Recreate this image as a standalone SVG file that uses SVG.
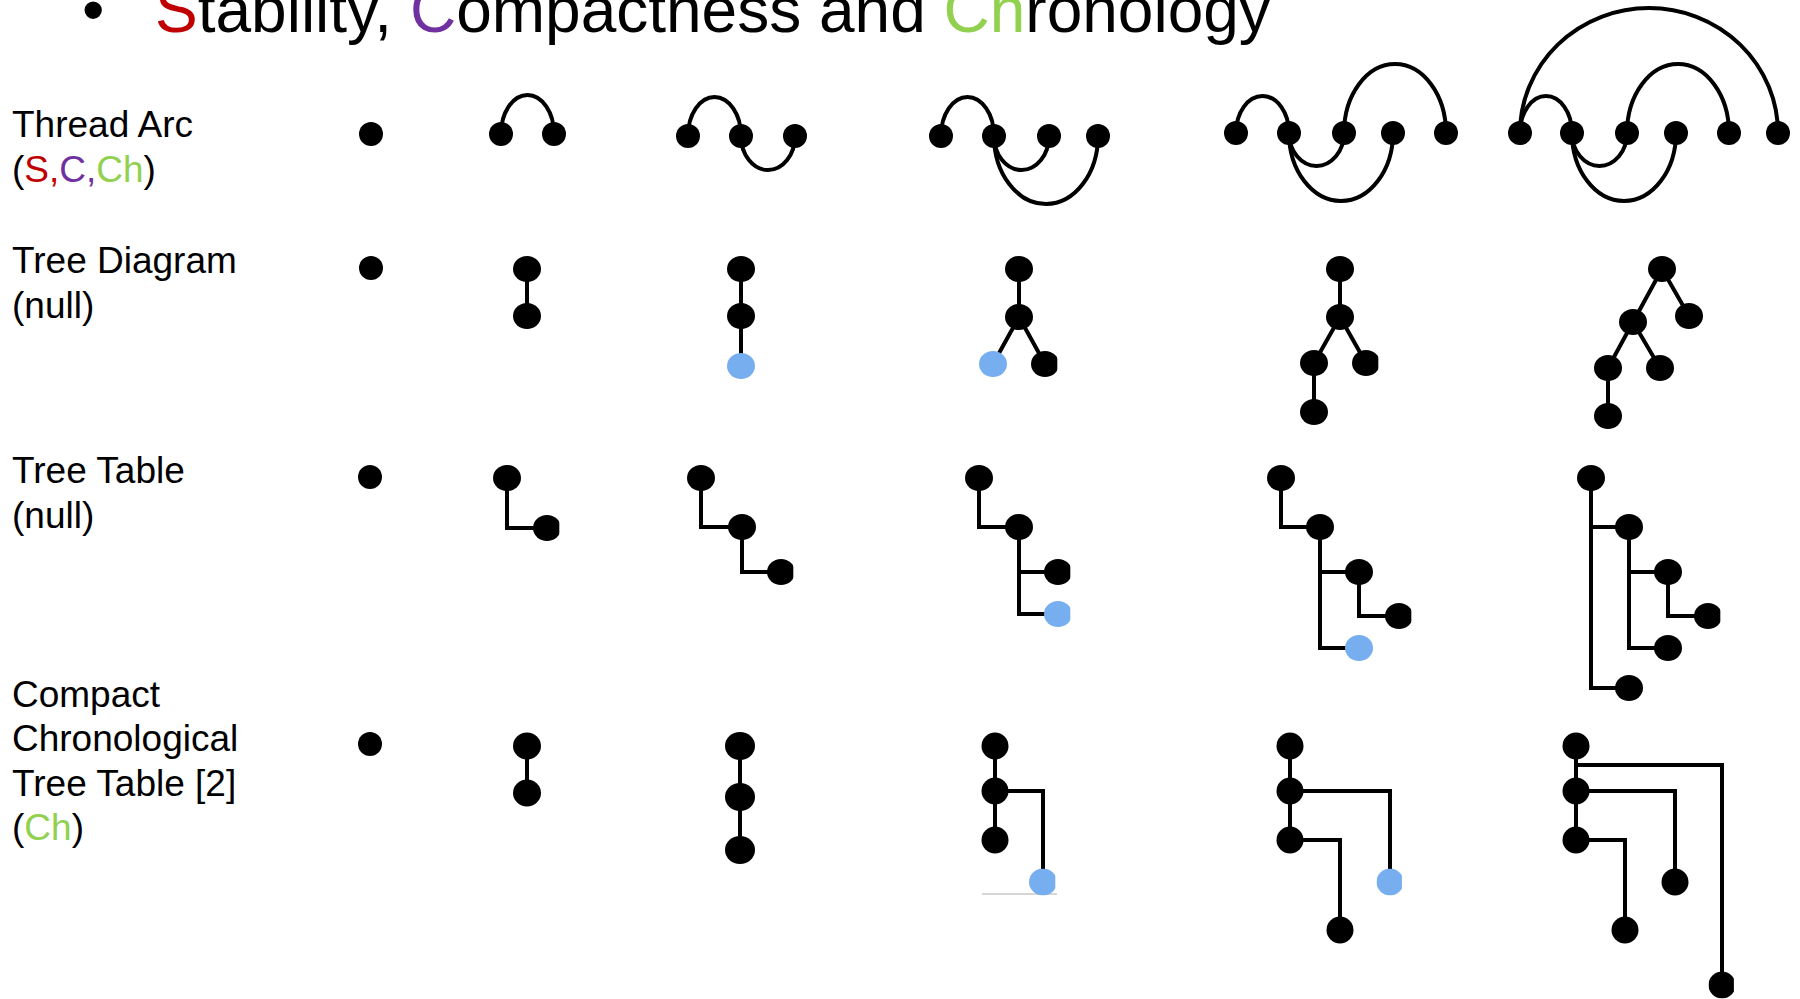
<svg xmlns="http://www.w3.org/2000/svg" width="1800" height="999" viewBox="0 0 1800 999">
<style>
  .lbl { font-family: "Liberation Sans", Arial, sans-serif; font-size: 37px; fill: #000; }
  .ttl { font-family: "Liberation Sans", Arial, sans-serif; font-size: 64px; fill: #000; }
  .red { fill: #C00000; }
  .pur { fill: #7030A0; }
  .grn { fill: #92D050; }
  .dot { fill: #000; }
  .blue { fill: #77AEF0; }
  .ln { fill: none; stroke: #000; stroke-width: 4; }
  .tl { fill: none; stroke: #000; stroke-width: 4; stroke-linejoin: miter; }
  .faint { fill: none; stroke: #C8C8C8; stroke-width: 1.5; }
</style>
<defs>
  <clipPath id="cutR" clipPathUnits="objectBoundingBox"><rect x="0" y="0" width="0.94" height="1"/></clipPath>
</defs>
<rect x="0" y="0" width="1800" height="999" fill="#fff"/>

<g id="title">
  <text class="ttl" x="82" y="32" font-size="78">•</text>
  <text class="ttl" x="155" y="32"><tspan class="red">S</tspan>tability, <tspan class="pur">C</tspan>ompactness and <tspan class="grn">Ch</tspan>ronology</text>
</g>

<g id="labels">
  <text class="lbl" x="12" y="137">Thread Arc</text>
  <text class="lbl" x="12" y="182">(<tspan class="red">S</tspan><tspan class="red">,</tspan><tspan class="pur">C,</tspan><tspan class="grn">Ch</tspan>)</text>
  <text class="lbl" x="12" y="273">Tree Diagram</text>
  <text class="lbl" x="12" y="318">(null)</text>
  <text class="lbl" x="12" y="483">Tree Table</text>
  <text class="lbl" x="12" y="528">(null)</text>
  <text class="lbl" x="12" y="707">Compact</text>
  <text class="lbl" x="12" y="751">Chronological</text>
  <text class="lbl" x="12" y="796">Tree Table [2]</text>
  <text class="lbl" x="12" y="840">(<tspan class="grn">Ch</tspan>)</text>
</g>

<g id="connectors">
  <!-- Thread arcs -->
  <path class="ln" d="M501 134 A26.5 39 0 0 1 554 134"/>
  <path class="ln" d="M688 136 A26.5 39 0 0 1 741 136"/>
  <path class="ln" d="M741 136 A27 34 0 0 0 795 136"/>
  <path class="ln" d="M941 136 A26.5 39 0 0 1 994 136"/>
  <path class="ln" d="M994 136 A27.5 34 0 0 0 1049 136"/>
  <path class="ln" d="M994 136 A52 68 0 0 0 1098 136"/>
  <path class="ln" d="M1236 133 A26.5 37 0 0 1 1289 133"/>
  <path class="ln" d="M1344 133 A51 69 0 0 1 1446 133"/>
  <path class="ln" d="M1289 133 A27.5 33 0 0 0 1344 133"/>
  <path class="ln" d="M1289 133 A52 68 0 0 0 1393 133"/>
  <path class="ln" d="M1520 133 A26 37 0 0 1 1572 133"/>
  <path class="ln" d="M1627 133 A51 69 0 0 1 1729 133"/>
  <path class="ln" d="M1520 133 A129 125 0 0 1 1778 133"/>
  <path class="ln" d="M1572 133 A27.5 33 0 0 0 1627 133"/>
  <path class="ln" d="M1572 133 A52 68 0 0 0 1676 133"/>

  <!-- Tree diagrams -->
  <path class="ln" d="M527 269 L527 316"/>
  <path class="ln" d="M741 269 L741 366"/>
  <path class="ln" d="M1019 269 L1019 317 M1019 317 L993 364 M1019 317 L1045 364"/>
  <path class="ln" d="M1340 269 L1340 317 M1340 317 L1314 363 M1340 317 L1366 363 M1314 363 L1314 412"/>
  <path class="ln" d="M1662 269 L1689 316 M1662 269 L1633 322 M1633 322 L1608 368 M1633 322 L1660 368 M1608 368 L1608 416"/>

  <!-- Tree tables -->
  <path class="tl" d="M507 478 V528 H547"/>
  <path class="tl" d="M701 478 V527 H742 M742 527 V572 H781"/>
  <path class="tl" d="M979 478 V527 H1019 M1019 527 V614 H1058 M1019 572 H1058"/>
  <path class="tl" d="M1281 478 V527 H1320 M1320 527 V648 H1359 M1320 572 H1359 M1359 572 V616 H1399"/>
  <path class="tl" d="M1591 478 V688 H1629 M1591 527 H1629 M1629 527 V648 H1668 M1629 572 H1668 M1668 572 V616 H1708"/>

  <!-- Compact chronological tree tables -->
  <path class="tl" d="M527 746 V793"/>
  <path class="tl" d="M740 746 V850"/>
  <path class="tl" d="M995 746 V840 M995 791 H1043 V882"/>
  <path class="faint" d="M982 894 H1057"/>
  <path class="tl" d="M1290 746 V840 M1290 791 H1390 V882 M1290 840 H1340 V930"/>
  <path class="tl" d="M1576 746 V840 M1576 765 H1722 V985 M1576 791 H1675 V882 M1576 840 H1625 V930"/>
</g>

<g id="thread-arc">
  <g id="ta1"><circle class="dot" cx="371" cy="134" r="12"/></g>
  <g id="ta2"><circle class="dot" cx="501" cy="134" r="12"/><circle class="dot" cx="554" cy="134" r="12"/></g>
  <g id="ta3"><circle class="dot" cx="688" cy="136" r="12"/><circle class="dot" cx="741" cy="136" r="12"/><circle class="dot" cx="795" cy="136" r="12"/></g>
  <g id="ta4"><circle class="dot" cx="941" cy="136" r="12"/><circle class="dot" cx="994" cy="136" r="12"/><circle class="dot" cx="1049" cy="136" r="12"/><circle class="dot" cx="1098" cy="136" r="12"/></g>
  <g id="ta5"><circle class="dot" cx="1236" cy="133" r="12"/><circle class="dot" cx="1289" cy="133" r="12"/><circle class="dot" cx="1344" cy="133" r="12"/><circle class="dot" cx="1393" cy="133" r="12"/><circle class="dot" cx="1446" cy="133" r="12"/></g>
  <g id="ta6"><circle class="dot" cx="1520" cy="133" r="12"/><circle class="dot" cx="1572" cy="133" r="12"/><circle class="dot" cx="1627" cy="133" r="12"/><circle class="dot" cx="1676" cy="133" r="12"/><circle class="dot" cx="1729" cy="133" r="12"/><circle class="dot" cx="1778" cy="133" r="12"/></g>
</g>

<g id="tree-diagram">
  <g id="td1"><circle class="dot" cx="371" cy="268" r="12"/></g>
  <g id="td2"><ellipse class="dot" cx="527" cy="269" rx="14" ry="13"/><ellipse class="dot" cx="527" cy="316" rx="14" ry="13"/></g>
  <g id="td3"><ellipse class="dot" cx="741" cy="269" rx="14" ry="13"/><ellipse class="dot" cx="741" cy="316" rx="14" ry="13"/><ellipse class="blue" cx="741" cy="366" rx="14" ry="13"/></g>
  <g id="td4"><ellipse class="dot" cx="1019" cy="269" rx="14" ry="13"/><ellipse class="dot" cx="1019" cy="317" rx="14" ry="13"/><ellipse class="blue" cx="993" cy="364" rx="14" ry="13"/><ellipse class="dot" cx="1045" cy="364" rx="14" ry="13" clip-path="url(#cutR)"/></g>
  <g id="td5"><ellipse class="dot" cx="1340" cy="269" rx="14" ry="13"/><ellipse class="dot" cx="1340" cy="317" rx="14" ry="13"/><ellipse class="dot" cx="1314" cy="363" rx="14" ry="13"/><ellipse class="dot" cx="1366" cy="363" rx="14" ry="13" clip-path="url(#cutR)"/><ellipse class="dot" cx="1314" cy="412" rx="14" ry="13"/></g>
  <g id="td6"><ellipse class="dot" cx="1662" cy="269" rx="14" ry="13"/><ellipse class="dot" cx="1689" cy="316" rx="14" ry="13"/><ellipse class="dot" cx="1633" cy="322" rx="14" ry="13"/><ellipse class="dot" cx="1608" cy="368" rx="14" ry="13"/><ellipse class="dot" cx="1660" cy="368" rx="14" ry="13"/><ellipse class="dot" cx="1608" cy="416" rx="14" ry="13"/></g>
</g>

<g id="tree-table">
  <g id="tt1"><circle class="dot" cx="370" cy="477" r="12"/></g>
  <g id="tt2"><ellipse class="dot" cx="507" cy="478" rx="14" ry="13"/><ellipse class="dot" cx="547" cy="528" rx="14" ry="13" clip-path="url(#cutR)"/></g>
  <g id="tt3"><ellipse class="dot" cx="701" cy="478" rx="14" ry="13"/><ellipse class="dot" cx="742" cy="527" rx="14" ry="13"/><ellipse class="dot" cx="781" cy="572" rx="14" ry="13" clip-path="url(#cutR)"/></g>
  <g id="tt4"><ellipse class="dot" cx="979" cy="478" rx="14" ry="13"/><ellipse class="dot" cx="1019" cy="527" rx="14" ry="13"/><ellipse class="dot" cx="1058" cy="572" rx="14" ry="13" clip-path="url(#cutR)"/><ellipse class="blue" cx="1058" cy="614" rx="14" ry="13" clip-path="url(#cutR)"/></g>
  <g id="tt5"><ellipse class="dot" cx="1281" cy="478" rx="14" ry="13"/><ellipse class="dot" cx="1320" cy="527" rx="14" ry="13"/><ellipse class="dot" cx="1359" cy="572" rx="14" ry="13"/><ellipse class="dot" cx="1399" cy="616" rx="14" ry="13" clip-path="url(#cutR)"/><ellipse class="blue" cx="1359" cy="648" rx="14" ry="13"/></g>
  <g id="tt6"><ellipse class="dot" cx="1591" cy="478" rx="14" ry="13"/><ellipse class="dot" cx="1629" cy="527" rx="14" ry="13"/><ellipse class="dot" cx="1668" cy="572" rx="14" ry="13"/><ellipse class="dot" cx="1708" cy="616" rx="14" ry="13" clip-path="url(#cutR)"/><ellipse class="dot" cx="1668" cy="648" rx="14" ry="13"/><ellipse class="dot" cx="1629" cy="688" rx="14" ry="13"/></g>
</g>

<g id="cctt">
  <g id="cc1"><circle class="dot" cx="370" cy="744" r="12"/></g>
  <g id="cc2"><ellipse class="dot" cx="527" cy="746" rx="14" ry="13.5"/><ellipse class="dot" cx="527" cy="793" rx="14" ry="13.5"/></g>
  <g id="cc3"><ellipse class="dot" cx="740" cy="746" rx="15" ry="14"/><ellipse class="dot" cx="740" cy="797" rx="15" ry="14"/><ellipse class="dot" cx="740" cy="850" rx="15" ry="14"/></g>
  <g id="cc4"><ellipse class="dot" cx="995" cy="746" rx="13.5" ry="13.5"/><ellipse class="dot" cx="995" cy="791" rx="13.5" ry="13.5"/><ellipse class="dot" cx="995" cy="840" rx="13.5" ry="13.5"/><ellipse class="blue" cx="1043" cy="882" rx="14" ry="13.5" clip-path="url(#cutR)"/></g>
  <g id="cc5"><ellipse class="dot" cx="1290" cy="746" rx="13.5" ry="13.5"/><ellipse class="dot" cx="1290" cy="791" rx="13.5" ry="13.5"/><ellipse class="dot" cx="1290" cy="840" rx="13.5" ry="13.5"/><ellipse class="dot" cx="1340" cy="930" rx="13.5" ry="13.5"/><ellipse class="blue" cx="1390" cy="882" rx="13.5" ry="13.5" clip-path="url(#cutR)"/></g>
  <g id="cc6"><ellipse class="dot" cx="1576" cy="746" rx="13.5" ry="13.5"/><ellipse class="dot" cx="1576" cy="791" rx="13.5" ry="13.5"/><ellipse class="dot" cx="1576" cy="840" rx="13.5" ry="13.5"/><ellipse class="dot" cx="1625" cy="930" rx="13.5" ry="13.5"/><ellipse class="dot" cx="1675" cy="882" rx="13.5" ry="13.5"/><ellipse class="dot" cx="1722" cy="985" rx="13.5" ry="13.5" clip-path="url(#cutR)"/></g>
</g>
</svg>
